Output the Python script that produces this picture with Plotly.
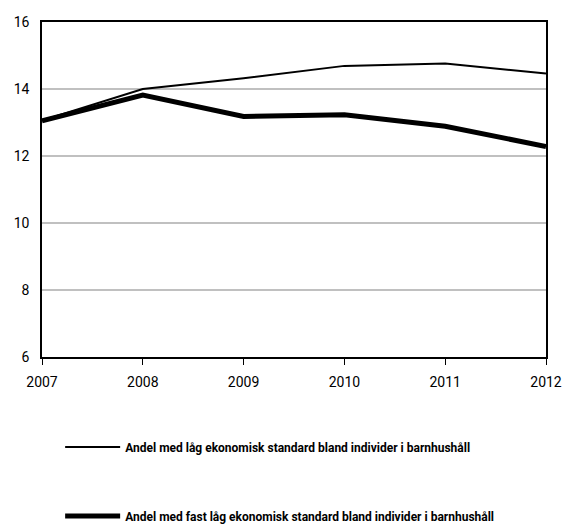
import plotly.graph_objects as go

years = [2007, 2008, 2009, 2010, 2011, 2012]
low_standard = [13.06, 14.0, 14.32, 14.69, 14.76, 14.46]
persistent_low = [13.05, 13.82, 13.18, 13.23, 12.89, 12.28]
names = [
    "Andel med låg ekonomisk standard bland individer i barnhushåll",
    "Andel med fast låg ekonomisk standard bland individer i barnhushåll",
]
y_ticks = [6, 8, 10, 12, 14, 16]

FONT = "Roboto, Liberation Sans, sans-serif"

fig = go.Figure()
fig.add_trace(go.Scatter(x=years, y=low_standard, mode="lines", name=names[0],
                         line=dict(color="black", width=2), legend="legend",
                         showlegend=True))
fig.add_trace(go.Scatter(x=years, y=persistent_low, mode="lines", name=names[1],
                         line=dict(color="black", width=5), legend="legend2",
                         showlegend=True))

legend_common = dict(xanchor="left", yanchor="middle",
                     bgcolor="rgba(0,0,0,0)",
                     font=dict(family=FONT, size=12, color="black", weight="bold"),
                     itemwidth=55)
fig.update_layout(
    width=563, height=525,
    margin=dict(l=42, r=17, t=22, b=168, autoexpand=False),
    paper_bgcolor="white", plot_bgcolor="white",
    showlegend=True,
    font=dict(family=FONT, size=15, color="black"),
    xaxis=dict(range=[2007, 2012], tickvals=years, showgrid=False, automargin=False,
               showline=True, linecolor="black", linewidth=1.5, mirror=True,
               ticks="outside", ticklen=6, tickcolor="black", zeroline=False,
               ticklabelstandoff=5, tickfont=dict(size=14)),
    yaxis=dict(range=[6, 16], tickvals=y_ticks, showgrid=True, gridcolor="#c0c0c0",
               gridwidth=2, showline=True, linecolor="black", linewidth=1.5, mirror=True,
               ticks="", zeroline=False, automargin=False, ticklabelstandoff=8,
               tickfont=dict(size=14)),
    legend=dict(x=0.036, y=-0.2687, **legend_common),
    legend2=dict(x=0.036, y=-0.4746, **legend_common),
)
fig.write_html(
    "out.html",
    config={"displayModeBar": False},
    post_script="document.body.style.margin='0';document.body.style.overflow='hidden';",
)
